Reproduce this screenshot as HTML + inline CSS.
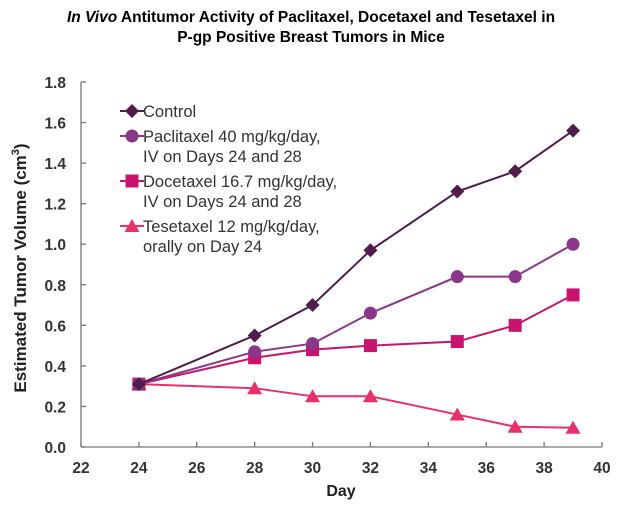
<!DOCTYPE html>
<html><head><meta charset="utf-8"><style>
body{margin:0;background:#fff;}
svg{display:block;font-family:"Liberation Sans",Arial,sans-serif;}
</style></head><body>
<svg id="chart" width="624" height="505" viewBox="0 0 624 505">
<text x="311" y="22" text-anchor="middle" font-size="15.5" font-weight="bold"><tspan font-style="italic">In Vivo</tspan> Antitumor Activity of Paclitaxel, Docetaxel and Tesetaxel in</text>
<text x="311" y="42" text-anchor="middle" font-size="15.5" font-weight="bold">P-gp Positive Breast Tumors in Mice</text>
<g id="axes"></g>
<g id="series"></g>
<g id="legend"></g>
<text x="341" y="496" text-anchor="middle" font-size="16" font-weight="bold" fill="#222">Day</text>
<text transform="translate(26,268) rotate(-90)" text-anchor="middle" font-size="17" font-weight="bold" fill="#222">Estimated Tumor Volume (cm<tspan font-size="11" dy="-7">3</tspan><tspan dy="7">)</tspan></text>
</svg>
<script>
const days = [24, 28, 30, 32, 35, 37, 39];
const control = [0.31, 0.55, 0.70, 0.97, 1.26, 1.36, 1.56];
const paclitaxel = [0.31, 0.47, 0.51, 0.66, 0.84, 0.84, 1.00];
const docetaxel = [0.31, 0.44, 0.48, 0.50, 0.52, 0.60, 0.75];
const tesetaxel = [0.31, 0.29, 0.25, 0.25, 0.16, 0.10, 0.095];
const xTicks = [22, 24, 26, 28, 30, 32, 34, 36, 38, 40];
const yTicks = [0.0, 0.2, 0.4, 0.6, 0.8, 1.0, 1.2, 1.4, 1.6, 1.8];
const seriesNames = ["Control", "Paclitaxel 40 mg/kg/day,|IV on Days 24 and 28", "Docetaxel 16.7 mg/kg/day,|IV on Days 24 and 28", "Tesetaxel 12 mg/kg/day,|orally on Day 24"];

const NS = "http://www.w3.org/2000/svg";
const X0 = 81, X1 = 602, Y0 = 447, Y1 = 82;
const xs = d => X0 + (d - 22) / 18 * (X1 - X0);
const ys = v => Y0 - v / 1.8 * (Y0 - Y1);
function mk(tag, attrs, parent) { const e = document.createElementNS(NS, tag); for (const k in attrs) e.setAttribute(k, attrs[k]); parent.appendChild(e); return e; }
const axes = document.getElementById('axes');
let l = mk('line', {x1: X0, y1: Y1, x2: X0, y2: Y0, stroke: '#777', 'stroke-width': 1.3}, axes);


l = mk('line', {x1: X0, y1: Y0, x2: X1, y2: Y0, stroke: '#777', 'stroke-width': 1.3}, axes);


xTicks.forEach(t => {
  mk('line', {x1: xs(t), y1: Y0, x2: xs(t), y2: Y0 - 5, stroke: '#777', 'stroke-width': 1.3}, axes);
  const tx = mk('text', {x: xs(t), y: Y0 + 26, 'text-anchor': 'middle', 'font-size': 15.5, 'font-weight': 'bold', fill: '#333'}, axes);
  tx.textContent = t;
  
  
});
yTicks.forEach(t => {
  mk('line', {x1: X0, y1: ys(t), x2: X0 + 5, y2: ys(t), stroke: '#777', 'stroke-width': 1.3}, axes);
  const tx = mk('text', {x: X0 - 15, y: ys(t) + 6, 'text-anchor': 'end', 'font-size': 15.5, 'font-weight': 'bold', fill: '#333'}, axes);
  tx.textContent = t.toFixed(1);
  
  
});
const colors = ['#4f1c4c', '#8a368a', '#c8146f', '#e8316a'];
const shapes = ['diamond', 'circle', 'square', 'triangle'];
function marker(shape, x, y, c, p) {
  if (shape === 'diamond') return mk('path', {d: `M${x} ${y-7}L${x+7} ${y}L${x} ${y+7}L${x-7} ${y}Z`, fill: c}, p);
  if (shape === 'circle') return mk('circle', {cx: x, cy: y, r: 6.5, fill: c}, p);
  if (shape === 'square') return mk('rect', {x: x - 6.5, y: y - 6.5, width: 13, height: 13, fill: c}, p);
  return mk('path', {d: `M${x} ${y-7}L${x+7.5} ${y+6}L${x-7.5} ${y+6}Z`, fill: c}, p);
}
const all = [control, paclitaxel, docetaxel, tesetaxel];
const sg = document.getElementById('series');
const sid = ['control', 'paclitaxel', 'docetaxel', 'tesetaxel'];
for (let s = 3; s >= 0; s--) {
  const g = mk('g', {}, sg);
  
  
  const pts = all[s].map((v, i) => xs(days[i]) + ',' + ys(v)).join(' ');
  const pl = mk('polyline', {points: pts, fill: 'none', stroke: colors[s], 'stroke-width': 2}, g);
  
  
  all[s].forEach((v, i) => {
    const m = marker(shapes[s], xs(days[i]), ys(v), colors[s], g);
    
    
  });
}
const lg = document.getElementById('legend');
const legY = [117, 142, 187, 232];
seriesNames.forEach((n, i) => {
  const g = mk('g', {}, lg);
  
  
  mk('line', {x1: 120, y1: legY[i] - 6, x2: 144, y2: legY[i] - 6, stroke: colors[i], 'stroke-width': 2}, g);
  marker(shapes[i], 132, legY[i] - 6, colors[i], g);
  n.split('|').forEach((line, j) => {
    const t = mk('text', {x: 143, y: legY[i] + j * 20, 'font-size': 16.5, fill: '#333'}, g);
    t.textContent = line;
  });
});
</script>
</body></html>
